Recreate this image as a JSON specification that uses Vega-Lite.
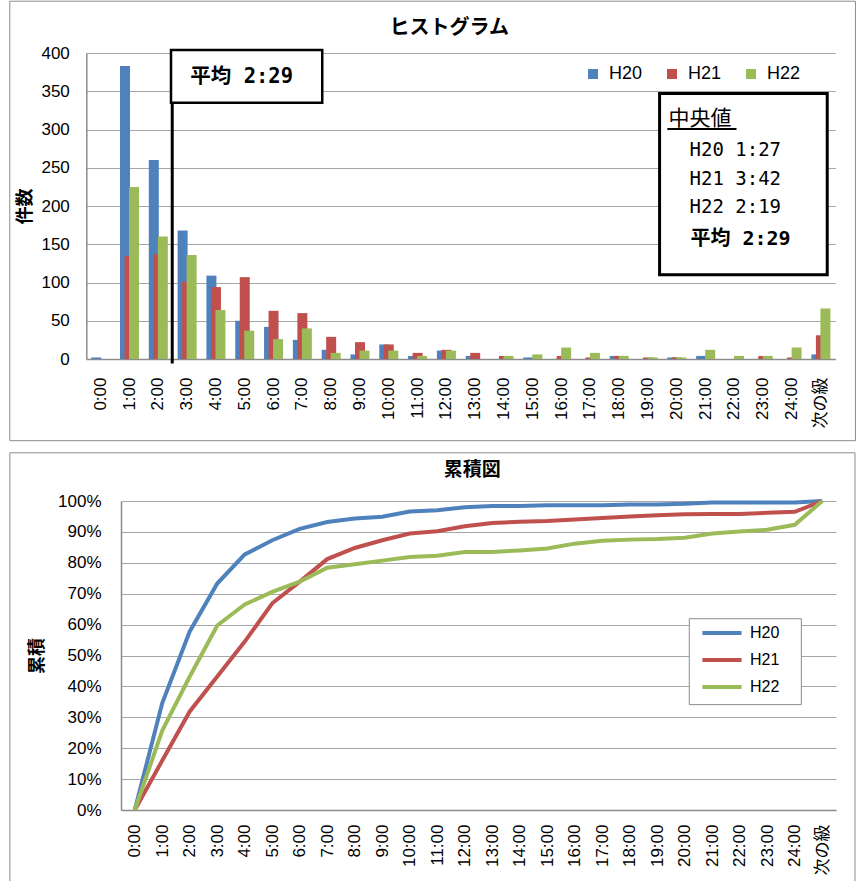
{
  "$schema": "https://vega.github.io/schema/vega-lite/v6.json",
  "padding": {"left": 9, "top": 0, "right": 0, "bottom": 0},
  "spacing": 10,
  "columns": 1,
  "align": "none",
  "bounds": "full",
  "background": "white",
  "resolve": {"scale": {"color": "independent"}, "legend": {"color": "independent"}},
  "config": {
    "view": {"stroke": null},
    "font": "Noto Sans CJK JP",
    "axis": {
      "labelFont": "Liberation Sans, Noto Sans CJK JP",
      "labelFontSize": 17,
      "labelColor": "#000",
      "titleFont": "Noto Sans CJK JP",
      "titleFontWeight": "bold",
      "titleFontSize": 18,
      "titleColor": "#000",
      "ticks": false,
      "domainColor": "#8c8c8c",
      "domainWidth": 1.5,
      "gridColor": "#a6a6a6",
      "gridWidth": 1.2
    }
  },
  "datasets": {
    "hist": [
      {"t": "0:00", "s": "H20", "n": 2}, {"t": "0:00", "s": "H21", "n": 0}, {"t": "0:00", "s": "H22", "n": 0},
      {"t": "1:00", "s": "H20", "n": 383}, {"t": "1:00", "s": "H21", "n": 135}, {"t": "1:00", "s": "H22", "n": 225},
      {"t": "2:00", "s": "H20", "n": 260}, {"t": "2:00", "s": "H21", "n": 137}, {"t": "2:00", "s": "H22", "n": 160},
      {"t": "3:00", "s": "H20", "n": 168}, {"t": "3:00", "s": "H21", "n": 101}, {"t": "3:00", "s": "H22", "n": 136},
      {"t": "4:00", "s": "H20", "n": 109}, {"t": "4:00", "s": "H21", "n": 94}, {"t": "4:00", "s": "H22", "n": 64},
      {"t": "5:00", "s": "H20", "n": 50}, {"t": "5:00", "s": "H21", "n": 107}, {"t": "5:00", "s": "H22", "n": 37},
      {"t": "6:00", "s": "H20", "n": 42}, {"t": "6:00", "s": "H21", "n": 63}, {"t": "6:00", "s": "H22", "n": 26},
      {"t": "7:00", "s": "H20", "n": 25}, {"t": "7:00", "s": "H21", "n": 60}, {"t": "7:00", "s": "H22", "n": 40},
      {"t": "8:00", "s": "H20", "n": 12}, {"t": "8:00", "s": "H21", "n": 29}, {"t": "8:00", "s": "H22", "n": 8},
      {"t": "9:00", "s": "H20", "n": 6}, {"t": "9:00", "s": "H21", "n": 22}, {"t": "9:00", "s": "H22", "n": 11},
      {"t": "10:00", "s": "H20", "n": 19}, {"t": "10:00", "s": "H21", "n": 19}, {"t": "10:00", "s": "H22", "n": 11},
      {"t": "11:00", "s": "H20", "n": 4}, {"t": "11:00", "s": "H21", "n": 8}, {"t": "11:00", "s": "H22", "n": 4},
      {"t": "12:00", "s": "H20", "n": 11}, {"t": "12:00", "s": "H21", "n": 12}, {"t": "12:00", "s": "H22", "n": 11},
      {"t": "13:00", "s": "H20", "n": 4}, {"t": "13:00", "s": "H21", "n": 8}, {"t": "13:00", "s": "H22", "n": 0},
      {"t": "14:00", "s": "H20", "n": 0}, {"t": "14:00", "s": "H21", "n": 4}, {"t": "14:00", "s": "H22", "n": 4},
      {"t": "15:00", "s": "H20", "n": 2}, {"t": "15:00", "s": "H21", "n": 0}, {"t": "15:00", "s": "H22", "n": 6},
      {"t": "16:00", "s": "H20", "n": 0}, {"t": "16:00", "s": "H21", "n": 4}, {"t": "16:00", "s": "H22", "n": 15},
      {"t": "17:00", "s": "H20", "n": 0}, {"t": "17:00", "s": "H21", "n": 2}, {"t": "17:00", "s": "H22", "n": 8},
      {"t": "18:00", "s": "H20", "n": 4}, {"t": "18:00", "s": "H21", "n": 4}, {"t": "18:00", "s": "H22", "n": 4},
      {"t": "19:00", "s": "H20", "n": 0}, {"t": "19:00", "s": "H21", "n": 2}, {"t": "19:00", "s": "H22", "n": 2},
      {"t": "20:00", "s": "H20", "n": 2}, {"t": "20:00", "s": "H21", "n": 2}, {"t": "20:00", "s": "H22", "n": 2},
      {"t": "21:00", "s": "H20", "n": 4}, {"t": "21:00", "s": "H21", "n": 0}, {"t": "21:00", "s": "H22", "n": 12},
      {"t": "22:00", "s": "H20", "n": 0}, {"t": "22:00", "s": "H21", "n": 0}, {"t": "22:00", "s": "H22", "n": 4},
      {"t": "23:00", "s": "H20", "n": 0}, {"t": "23:00", "s": "H21", "n": 4}, {"t": "23:00", "s": "H22", "n": 4},
      {"t": "24:00", "s": "H20", "n": 0}, {"t": "24:00", "s": "H21", "n": 2}, {"t": "24:00", "s": "H22", "n": 15},
      {"t": "次の級", "s": "H20", "n": 6}, {"t": "次の級", "s": "H21", "n": 31}, {"t": "次の級", "s": "H22", "n": 66}
    ],
    "cum": [
      {"t": "0:00", "s": "H20", "p": 0}, {"t": "1:00", "s": "H20", "p": 0.346}, {"t": "2:00", "s": "H20", "p": 0.578}, {"t": "3:00", "s": "H20", "p": 0.733}, {"t": "4:00", "s": "H20", "p": 0.827}, {"t": "5:00", "s": "H20", "p": 0.873}, {"t": "6:00", "s": "H20", "p": 0.91}, {"t": "7:00", "s": "H20", "p": 0.932}, {"t": "8:00", "s": "H20", "p": 0.943}, {"t": "9:00", "s": "H20", "p": 0.949}, {"t": "10:00", "s": "H20", "p": 0.966}, {"t": "11:00", "s": "H20", "p": 0.97}, {"t": "12:00", "s": "H20", "p": 0.98}, {"t": "13:00", "s": "H20", "p": 0.984}, {"t": "14:00", "s": "H20", "p": 0.984}, {"t": "15:00", "s": "H20", "p": 0.986}, {"t": "16:00", "s": "H20", "p": 0.986}, {"t": "17:00", "s": "H20", "p": 0.986}, {"t": "18:00", "s": "H20", "p": 0.989}, {"t": "19:00", "s": "H20", "p": 0.989}, {"t": "20:00", "s": "H20", "p": 0.991}, {"t": "21:00", "s": "H20", "p": 0.995}, {"t": "22:00", "s": "H20", "p": 0.995}, {"t": "23:00", "s": "H20", "p": 0.995}, {"t": "24:00", "s": "H20", "p": 0.995}, {"t": "次の級", "s": "H20", "p": 1},
      {"t": "0:00", "s": "H21", "p": 0}, {"t": "1:00", "s": "H21", "p": 0.16}, {"t": "2:00", "s": "H21", "p": 0.319}, {"t": "3:00", "s": "H21", "p": 0.432}, {"t": "4:00", "s": "H21", "p": 0.545}, {"t": "5:00", "s": "H21", "p": 0.669}, {"t": "6:00", "s": "H21", "p": 0.739}, {"t": "7:00", "s": "H21", "p": 0.812}, {"t": "8:00", "s": "H21", "p": 0.848}, {"t": "9:00", "s": "H21", "p": 0.873}, {"t": "10:00", "s": "H21", "p": 0.895}, {"t": "11:00", "s": "H21", "p": 0.902}, {"t": "12:00", "s": "H21", "p": 0.918}, {"t": "13:00", "s": "H21", "p": 0.929}, {"t": "14:00", "s": "H21", "p": 0.933}, {"t": "15:00", "s": "H21", "p": 0.935}, {"t": "16:00", "s": "H21", "p": 0.94}, {"t": "17:00", "s": "H21", "p": 0.945}, {"t": "18:00", "s": "H21", "p": 0.95}, {"t": "19:00", "s": "H21", "p": 0.954}, {"t": "20:00", "s": "H21", "p": 0.957}, {"t": "21:00", "s": "H21", "p": 0.958}, {"t": "22:00", "s": "H21", "p": 0.958}, {"t": "23:00", "s": "H21", "p": 0.962}, {"t": "24:00", "s": "H21", "p": 0.965}, {"t": "次の級", "s": "H21", "p": 1},
      {"t": "0:00", "s": "H22", "p": 0}, {"t": "1:00", "s": "H22", "p": 0.257}, {"t": "2:00", "s": "H22", "p": 0.432}, {"t": "3:00", "s": "H22", "p": 0.597}, {"t": "4:00", "s": "H22", "p": 0.665}, {"t": "5:00", "s": "H22", "p": 0.706}, {"t": "6:00", "s": "H22", "p": 0.739}, {"t": "7:00", "s": "H22", "p": 0.784}, {"t": "8:00", "s": "H22", "p": 0.795}, {"t": "9:00", "s": "H22", "p": 0.807}, {"t": "10:00", "s": "H22", "p": 0.819}, {"t": "11:00", "s": "H22", "p": 0.823}, {"t": "12:00", "s": "H22", "p": 0.835}, {"t": "13:00", "s": "H22", "p": 0.835}, {"t": "14:00", "s": "H22", "p": 0.84}, {"t": "15:00", "s": "H22", "p": 0.846}, {"t": "16:00", "s": "H22", "p": 0.862}, {"t": "17:00", "s": "H22", "p": 0.871}, {"t": "18:00", "s": "H22", "p": 0.875}, {"t": "19:00", "s": "H22", "p": 0.877}, {"t": "20:00", "s": "H22", "p": 0.881}, {"t": "21:00", "s": "H22", "p": 0.895}, {"t": "22:00", "s": "H22", "p": 0.901}, {"t": "23:00", "s": "H22", "p": 0.907}, {"t": "24:00", "s": "H22", "p": 0.923}, {"t": "次の級", "s": "H22", "p": 1}
    ]
  },
  "concat": [
    {
      "width": 715,
      "height": 306,
      "resolve": {"scale": {"x": "independent", "y": "independent"}},
      "layer": [
        {
          "data": {"values": [{}]},
          "mark": {"type": "rect", "fill": "transparent", "stroke": "#8c8c8c", "strokeWidth": 1},
          "encoding": {
            "x": {"datum": -3.156, "type": "quantitative", "scale": {"domain": [-0.5, 25.5], "range": [-34.7, 714.3]}, "axis": null},
            "x2": {"datum": 26.2},
            "y": {"datum": 467.7, "type": "quantitative", "scale": {"domain": [0, 400]}, "axis": null},
            "y2": {"datum": -106.8}
          }
        },
        {
          "data": {"name": "hist"},
          "mark": {"type": "bar", "width": 10},
          "encoding": {
            "x": {"field": "t", "type": "nominal", "sort": null, "scale": {"range": [-34.7, 714.3], "paddingInner": 0.34, "paddingOuter": 0.17},
                  "axis": {"title": null, "labelAngle": -90, "labelPadding": 18, "grid": false}},
            "xOffset": {"field": "s", "type": "nominal", "scale": {"paddingInner": 0, "paddingOuter": 0.61}},
            "y": {"field": "n", "type": "quantitative", "scale": {"domain": [0, 400]},
                  "axis": {"title": "件数", "values": [0, 50, 100, 150, 200, 250, 300, 350, 400], "grid": true, "offset": 34.7, "labelPadding": 17, "titlePadding": 6}},
            "color": {"field": "s", "type": "nominal",
                      "scale": {"domain": ["H20", "H21", "H22"], "range": ["#4F81BD", "#C0504D", "#9BBB59"]},
                      "legend": {"orient": "none", "legendX": 463, "legendY": 12, "direction": "horizontal", "title": null,
                                 "symbolType": "square", "symbolSize": 100, "symbolStrokeWidth": 0, "labelFontSize": 18, "labelFont": "Liberation Sans",
                                 "labelColor": "#000", "labelOffset": 7, "columnPadding": 20, "padding": 0}}
          }
        },
        {
          "data": {"values": [{}]},
          "mark": {"type": "rule", "color": "#000", "strokeWidth": 3},
          "encoding": {
            "x": {"datum": 2.483, "type": "quantitative", "scale": {"domain": [-0.5, 25.5], "range": [-34.7, 714.3]}, "axis": null},
            "y": {"datum": -6, "type": "quantitative", "scale": {"domain": [0, 400]}, "axis": null},
            "y2": {"datum": 335}
          }
        },
        {
          "data": {"values": [{}]},
          "mark": {"type": "rect", "fill": "white", "stroke": "#000", "strokeWidth": 2.5},
          "encoding": {
            "x": {"datum": 2.44, "type": "quantitative", "scale": {"domain": [-0.5, 25.5], "range": [-34.7, 714.3]}, "axis": null},
            "x2": {"datum": 7.69},
            "y": {"datum": 404, "type": "quantitative", "scale": {"domain": [0, 400]}, "axis": null},
            "y2": {"datum": 335}
          }
        },
        {
          "data": {"values": [{}]},
          "mark": {"type": "text", "text": "平均 2:29", "align": "left", "baseline": "middle", "font": "DejaVu Sans Mono, Noto Sans CJK JP", "fontSize": 20.5, "fontWeight": "bold", "color": "#000"},
          "encoding": {
            "x": {"datum": 3.11, "type": "quantitative", "scale": {"domain": [-0.5, 25.5], "range": [-34.7, 714.3]}, "axis": null},
            "y": {"datum": 368, "type": "quantitative", "scale": {"domain": [0, 400]}, "axis": null}
          }
        },
        {
          "data": {"values": [{}]},
          "mark": {"type": "rect", "fill": "white", "stroke": "#000", "strokeWidth": 3},
          "encoding": {
            "x": {"datum": 19.4, "type": "quantitative", "scale": {"domain": [-0.5, 25.5], "range": [-34.7, 714.3]}, "axis": null},
            "x2": {"datum": 25.22},
            "y": {"datum": 347, "type": "quantitative", "scale": {"domain": [0, 400]}, "axis": null},
            "y2": {"datum": 110}
          }
        },
        {
          "data": {"values": [{}]},
          "mark": {"type": "text", "text": "中央値", "align": "left", "baseline": "middle", "font": "Noto Sans CJK JP", "fontSize": 21, "color": "#000"},
          "encoding": {
            "x": {"datum": 19.71, "type": "quantitative", "scale": {"domain": [-0.5, 25.5], "range": [-34.7, 714.3]}, "axis": null},
            "y": {"datum": 314, "type": "quantitative", "scale": {"domain": [0, 400]}, "axis": null}
          }
        },
        {
          "data": {"values": [{}]},
          "mark": {"type": "rule", "color": "#000", "strokeWidth": 2},
          "encoding": {
            "x": {"datum": 19.67, "type": "quantitative", "scale": {"domain": [-0.5, 25.5], "range": [-34.7, 714.3]}, "axis": null},
            "x2": {"datum": 22.07},
            "y": {"datum": 300.6, "type": "quantitative", "scale": {"domain": [0, 400]}, "axis": null}
          }
        },
        {
          "data": {"values": [{}]},
          "mark": {"type": "text", "text": "H20 1:27", "align": "left", "baseline": "middle", "font": "DejaVu Sans Mono, Noto Sans CJK JP", "fontSize": 19, "color": "#000"},
          "encoding": {
            "x": {"datum": 20.44, "type": "quantitative", "scale": {"domain": [-0.5, 25.5], "range": [-34.7, 714.3]}, "axis": null},
            "y": {"datum": 273.6, "type": "quantitative", "scale": {"domain": [0, 400]}, "axis": null}
          }
        },
        {
          "data": {"values": [{}]},
          "mark": {"type": "text", "text": "H21 3:42", "align": "left", "baseline": "middle", "font": "DejaVu Sans Mono, Noto Sans CJK JP", "fontSize": 19, "color": "#000"},
          "encoding": {
            "x": {"datum": 20.44, "type": "quantitative", "scale": {"domain": [-0.5, 25.5], "range": [-34.7, 714.3]}, "axis": null},
            "y": {"datum": 235.7, "type": "quantitative", "scale": {"domain": [0, 400]}, "axis": null}
          }
        },
        {
          "data": {"values": [{}]},
          "mark": {"type": "text", "text": "H22 2:19", "align": "left", "baseline": "middle", "font": "DejaVu Sans Mono, Noto Sans CJK JP", "fontSize": 19, "color": "#000"},
          "encoding": {
            "x": {"datum": 20.44, "type": "quantitative", "scale": {"domain": [-0.5, 25.5], "range": [-34.7, 714.3]}, "axis": null},
            "y": {"datum": 198.2, "type": "quantitative", "scale": {"domain": [0, 400]}, "axis": null}
          }
        },
        {
          "data": {"values": [{}]},
          "mark": {"type": "text", "text": "平均 2:29", "align": "left", "baseline": "middle", "font": "DejaVu Sans Mono, Noto Sans CJK JP", "fontSize": 20, "fontWeight": "bold", "color": "#000"},
          "encoding": {
            "x": {"datum": 20.47, "type": "quantitative", "scale": {"domain": [-0.5, 25.5], "range": [-34.7, 714.3]}, "axis": null},
            "y": {"datum": 156.9, "type": "quantitative", "scale": {"domain": [0, 400]}, "axis": null}
          }
        },
        {
          "data": {"values": [{}]},
          "mark": {"type": "text", "text": "ヒストグラム", "align": "center", "baseline": "middle", "font": "Noto Sans CJK JP", "fontSize": 20, "fontWeight": "bold", "color": "#000"},
          "encoding": {
            "x": {"datum": 12.1, "type": "quantitative", "scale": {"domain": [-0.5, 25.5], "range": [-34.7, 714.3]}, "axis": null},
            "y": {"datum": 433, "type": "quantitative", "scale": {"domain": [0, 400]}, "axis": null}
          }
        }
      ]
    },
    {
      "width": 715,
      "height": 309,
      "resolve": {"scale": {"x": "independent", "y": "independent"}},
      "layer": [
        {
          "data": {"values": [{}]},
          "mark": {"type": "rect", "fill": "transparent", "stroke": "#8c8c8c", "strokeWidth": 1},
          "encoding": {
            "x": {"datum": -4.542, "type": "quantitative", "scale": {"domain": [-0.5, 25.5]}, "axis": null},
            "x2": {"datum": 26.19},
            "y": {"datum": 1.156, "type": "quantitative", "scale": {"domain": [0, 1]}, "axis": null},
            "y2": {"datum": -0.232}
          }
        },
        {
          "data": {"name": "cum"},
          "mark": {"type": "line", "strokeWidth": 4},
          "encoding": {
            "x": {"field": "t", "type": "ordinal", "sort": null, "scale": {"type": "point", "padding": 0.5},
                  "axis": {"title": null, "labelAngle": -90, "labelPadding": 14, "grid": false}},
            "y": {"field": "p", "type": "quantitative", "scale": {"domain": [0, 1]},
                  "axis": {"title": "累積", "format": ".0%", "values": [0, 0.1, 0.2, 0.3, 0.4, 0.5, 0.6, 0.7, 0.8, 0.9, 1], "grid": true, "labelPadding": 20, "titlePadding": 11}},
            "color": {"field": "s", "type": "nominal",
                      "scale": {"domain": ["H20", "H21", "H22"], "range": ["#4F81BD", "#C0504D", "#9BBB59"]},
                      "legend": {"orient": "none", "legendX": 568, "legendY": 115, "title": null,
                                 "symbolType": "M-1.4,0H1.4", "symbolSize": 784, "symbolStrokeWidth": 4, "symbolOffset": 16,
                                 "labelFontSize": 16, "labelFont": "Liberation Sans",
                                 "labelColor": "#000", "labelOffset": 12, "padding": 1, "rowPadding": 3}}
          }
        },
        {
          "data": {"values": [{}]},
          "mark": {"type": "rect", "fill": "white", "stroke": "#8c8c8c", "strokeWidth": 1},
          "encoding": {
            "x": {"datum": 20.165, "type": "quantitative", "scale": {"domain": [-0.5, 25.5]}, "axis": null},
            "x2": {"datum": 24.24},
            "y": {"datum": 0.619, "type": "quantitative", "scale": {"domain": [0, 1]}, "axis": null},
            "y2": {"datum": 0.341}
          }
        },
        {
          "data": {"values": [{}]},
          "mark": {"type": "text", "text": "累積図", "align": "center", "baseline": "middle", "font": "Noto Sans CJK JP", "fontSize": 19, "fontWeight": "bold", "color": "#000"},
          "encoding": {
            "x": {"datum": 12.27, "type": "quantitative", "scale": {"domain": [-0.5, 25.5]}, "axis": null},
            "y": {"datum": 1.101, "type": "quantitative", "scale": {"domain": [0, 1]}, "axis": null}
          }
        }
      ]
    }
  ]
}
